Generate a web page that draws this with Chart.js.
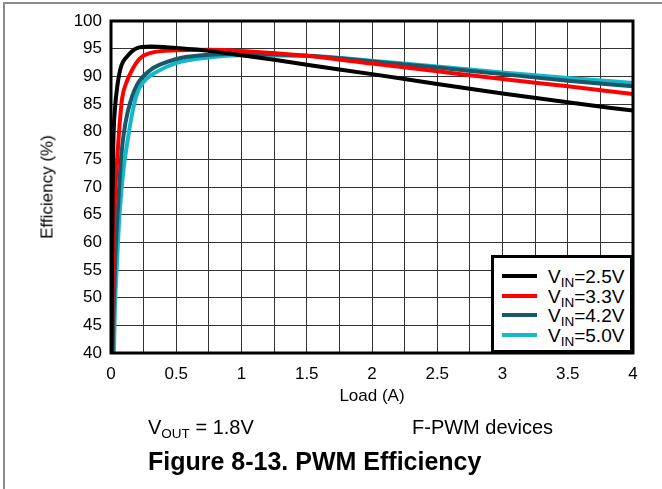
<!DOCTYPE html>
<html>
<head>
<meta charset="utf-8">
<script src="https://cdn.jsdelivr.net/npm/chart.js@4.4.1/dist/chart.umd.min.js"></script>
<style>
  body { margin: 0; background: #fff; font-family: "Liberation Sans", Arial, sans-serif; }
  #wrap { position: relative; width: 662px; height: 489px; overflow: hidden; }
  #frameTop { position: absolute; left: 3px; top: 2px; width: 659px; height: 0; border-top: 2px solid #8a8a8a; }
  #frameLeft { position: absolute; left: 3px; top: 2px; width: 0; height: 487px; border-left: 2px solid #8a8a8a; }
  canvas { position: absolute; left: 0; top: 0; }
  .txt { position: absolute; color: #000; white-space: nowrap; line-height: 1; }
  .legend { position: absolute; left: 491px; top: 255px; width: 136px; height: 92px; border: 3px solid #000; background: #fff; }
  .row { position: absolute; left: 8px; height: 20px; font-size: 19px; }
  .row i { position: absolute; left: 0; top: 8px; width: 35px; height: 4px; }
  .row span { position: absolute; left: 46px; top: 0px; }
  sub { font-size: 13.5px; vertical-align: -4px; line-height: 0; }
</style>
</head>
<body>
<div id="wrap">
  <div id="frameTop"></div>
  <div id="frameLeft"></div>
  <canvas id="chart" width="662" height="489"></canvas>
  <div class="txt" style="left:47px; top:187px; font-size:17px; transform: translate(-50%,-50%) rotate(-90deg); transform-origin: center;">Efficiency (%)</div>
  <div class="txt" style="left:372px; top:395px; font-size:17px; transform: translate(-50%,-50%);">Load (A)</div>
  <div class="txt" style="left:148px; top:417px; font-size:20px;">V<sub>OUT</sub> = 1.8V</div>
  <div class="txt" style="left:412px; top:417px; font-size:20px;">F-PWM devices</div>
  <div class="txt" style="left:148px; top:449px; font-size:25px; font-weight:bold;">Figure 8-13. PWM Efficiency</div>
  <div class="legend" id="legend"></div>
</div>
<script>
// Efficiency vs load
const vin25X = [0.004, 0.008, 0.012, 0.018, 0.03, 0.05, 0.08, 0.12, 0.2, 0.3, 0.5, 0.75, 1, 1.25, 1.5, 2, 2.5, 3, 3.5, 4];
const vin25Y = [40, 55, 68, 78, 84, 88.5, 92, 93.5, 95.1, 95.4, 95.1, 94.6, 93.8, 93, 92.1, 90.4, 88.6, 86.9, 85.3, 83.8];

const vin33X = [0.008, 0.014, 0.02, 0.03, 0.045, 0.065, 0.085, 0.12, 0.17, 0.22, 0.3, 0.5, 0.75, 1, 1.5, 2, 2.5, 3, 3.5, 4];
const vin33Y = [40, 55, 62, 68, 74, 81, 86, 89, 91.5, 93.2, 94.2, 94.7, 94.8, 94.6, 93.7, 92.3, 90.9, 89.5, 88.2, 86.8];

const vin42X = [0.012, 0.02, 0.03, 0.045, 0.06, 0.08, 0.11, 0.15, 0.2, 0.3, 0.43, 0.55, 0.75, 1, 1.5, 2, 2.5, 3, 3.5, 4];
const vin42Y = [40, 48, 55.5, 63, 69, 76, 81.5, 85.5, 88.5, 91.1, 92.6, 93.4, 93.9, 94.1, 93.7, 92.7, 91.6, 90.4, 89.2, 88.2];

const vin50X = [0.022, 0.03, 0.045, 0.06, 0.075, 0.1, 0.125, 0.16, 0.2, 0.25, 0.35, 0.5, 0.75, 1, 1.5, 2, 2.5, 3, 3.5, 4];
const vin50Y = [40, 48, 56, 63, 68, 74, 78, 83, 86.9, 89, 90.8, 92.4, 93.4, 93.8, 93.7, 92.8, 91.8, 90.7, 89.7, 88.8];

const seriesNames = ["2.5V", "3.3V", "4.2V", "5.0V"];
const seriesColors = ["#000000", "#ff0000", "#17596a", "#14b8c8"];

const yTicks = { min: 40, max: 100, step: 5 };
const xTicks = { min: 0, max: 4, step: 0.25 };

function pts(xs, ys) {
    return xs.map((x, i) => ({ x: x, y: ys[i] }));
}

const allSeries = [pts(vin25X, vin25Y), pts(vin33X, vin33Y), pts(vin42X, vin42Y), pts(vin50X, vin50Y)];

// legend (html so the subscript stays real text)
const legend = document.getElementById("legend");
seriesNames.forEach((n, i) => {
    const row = document.createElement("div");
    row.className = "row";
    row.style.top = (8 + i * 19.5) + "px";
    row.innerHTML = `<i style="background:${seriesColors[i]}"></i><span>V<sub>IN</sub>=${n}</span>`;
    legend.appendChild(row);
});

// thick frame round the plot area
const frameBox = {
    id: "frameBox",
    afterDatasetsDraw(chart) {
        const a = chart.chartArea;
        const ctx = chart.ctx;
        ctx.save();
        ctx.strokeStyle = "#000";
        ctx.lineWidth = 3;
        ctx.strokeRect(a.left, a.top, a.right - a.left, a.bottom - a.top);
        ctx.restore();
    }
};

new Chart(document.getElementById("chart").getContext("2d"), {
    type: "line",
    data: {
        datasets: allSeries.map((d, i) => ({
            label: "VIN=" + seriesNames[i],
            data: d,
            borderColor: seriesColors[i],
            backgroundColor: seriesColors[i],
            borderWidth: 4,
            pointRadius: 0,
            cubicInterpolationMode: "monotone",
            fill: false
        }))
    },
    options: {
        responsive: false,
        animation: false,
        layout: { padding: { top: 21, right: 29, bottom: 0, left: 0 } },
        plugins: { legend: { display: false }, tooltip: { enabled: false } },
        scales: {
            x: {
                type: "linear",
                min: xTicks.min,
                max: xTicks.max,
                afterFit: s => { s.height = 489 - 353; },
                grid: { color: "#333", lineWidth: 1, drawTicks: false },
                border: { display: false },
                ticks: {
                    stepSize: xTicks.step,
                    autoSkip: false,
                    maxRotation: 0,
                    padding: 11,
                    color: "#000",
                    font: { family: "Liberation Sans", size: 17 },
                    callback: v => (Math.abs(v * 2 - Math.round(v * 2)) < 1e-9 ? String(v) : "")
                }
            },
            y: {
                min: yTicks.min,
                max: yTicks.max,
                afterFit: s => { s.width = 111; },
                grid: { color: "#333", lineWidth: 1, drawTicks: false },
                border: { display: false },
                ticks: {
                    stepSize: yTicks.step,
                    padding: 9,
                    color: "#000",
                    font: { family: "Liberation Sans", size: 17 }
                }
            }
        }
    },
    plugins: [frameBox]
});
</script>
</body>
</html>
